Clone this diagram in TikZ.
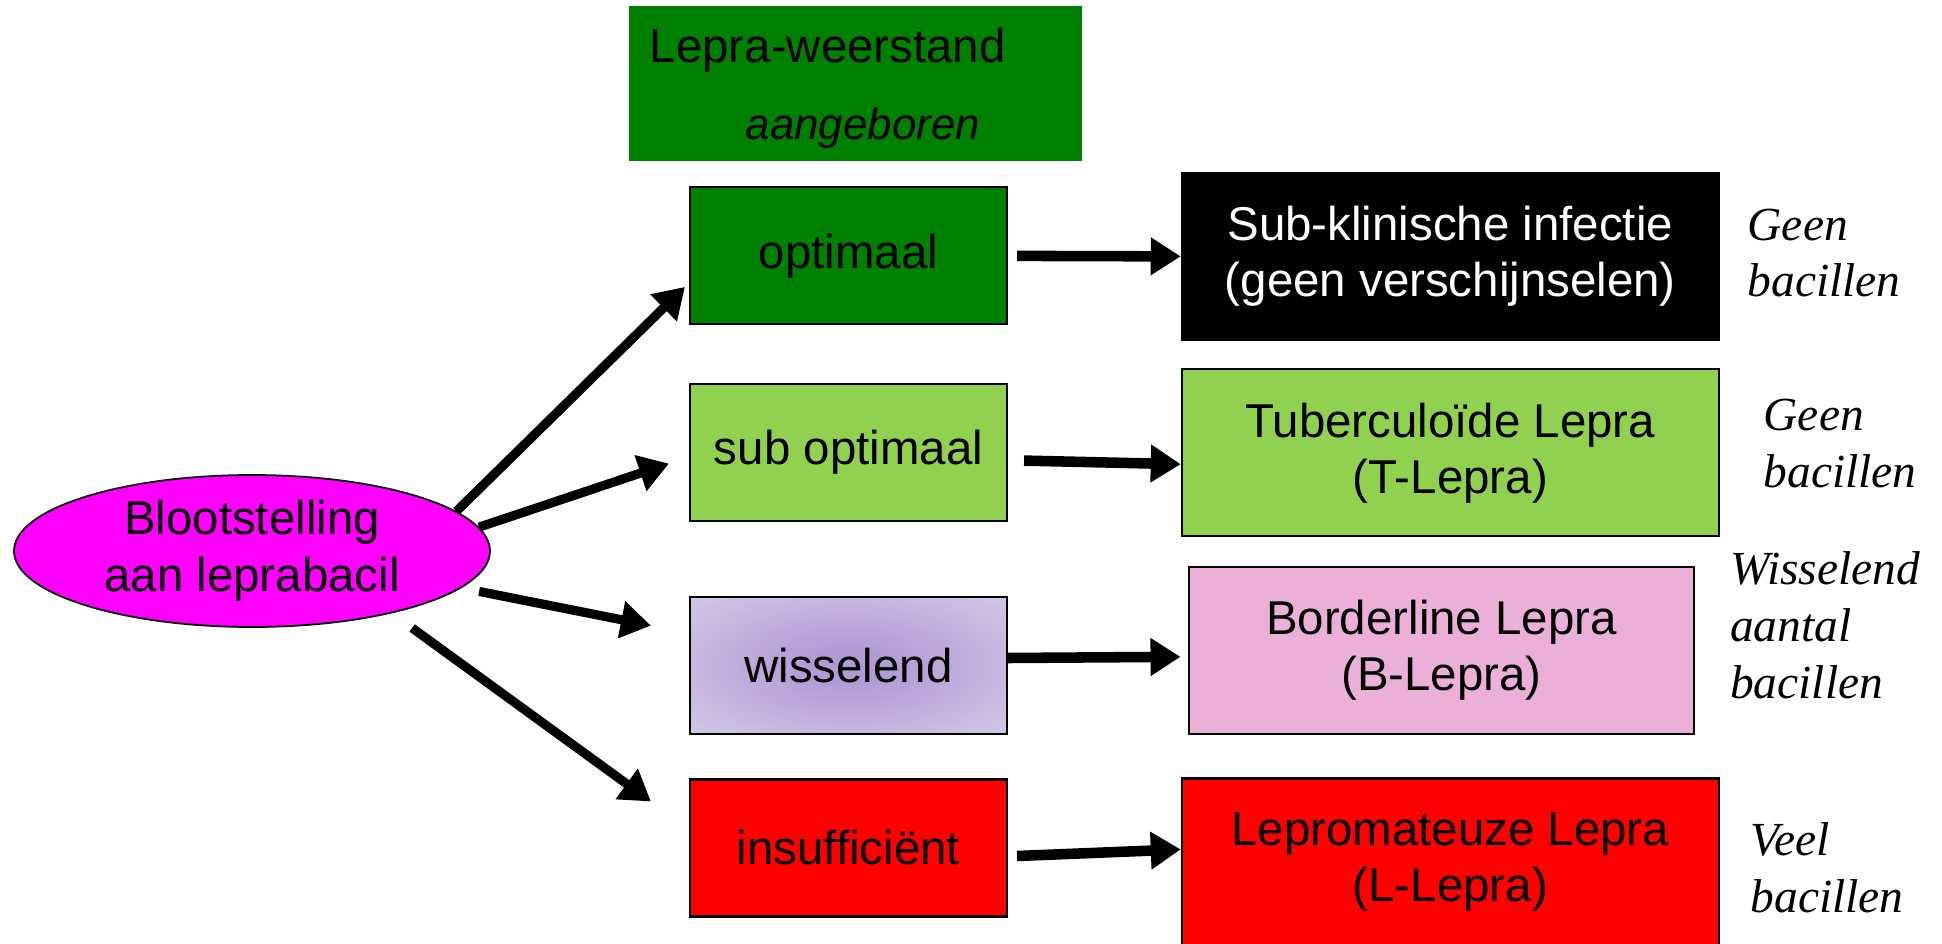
\documentclass[tikz,border=0pt]{standalone}
\usepackage{fontspec}
\setmainfont{Liberation Sans}
\newfontfamily\serifit{Liberation Serif}
\usetikzlibrary{positioning, arrows.meta, shapes.geometric}
\definecolor{donkergroen}{RGB}{0,128,0}
\definecolor{lichtgroen}{RGB}{146,208,80}
\definecolor{roze}{RGB}{234,176,218}
\definecolor{fuchsia}{RGB}{255,0,255}
\definecolor{paarsbinnen}{RGB}{178,155,213}
\definecolor{paarsbuiten}{RGB}{231,225,240}
\pgfdeclareradialshading{paarswolk}{\pgfpoint{0bp}{0bp}}{%
  color(0bp)=(paarsbinnen); color(6bp)=(paarsbinnen);
  color(52bp)=(paarsbuiten); color(75bp)=(paarsbuiten)}
\tikzset{
  rect1/.style = {
    shape = rectangle,
    draw = black,
    line width = 0.6pt,
    inner sep = 0pt,
    align = center,
    minimum width = 3.17cm,
    minimum height = 1.37cm,
    font = \fontsize{13.5}{16}\selectfont,
  }
}
\tikzset{
  rect2/.style = {
    shape = rectangle,
    draw = black,
    line width = 0.6pt,
    inner sep = 0pt,
    align = center,
    minimum width = 5.37cm,
    minimum height = 1.67cm,
    font = \fontsize{13.5}{16}\selectfont,
  }
}
\tikzset{
  label1/.style = {
    anchor = base west,
    inner sep = 0pt,
    align = left,
    font = \serifit\itshape\fontsize{13.5}{16.2}\selectfont,
  }
}
\tikzset{
  arrow1/.style = {
    draw = black, line width = 3pt, -{Triangle[length = 3mm, width = 3.6mm]},
  }
}

\begin{document}
\begin{tikzpicture}
        \useasboundingbox (0,0) rectangle (19.42,9.43);
        % kop
        \node[rect1, draw = none, fill = donkergroen, minimum width = 4.53cm, minimum height = 1.55cm](10) at (8.555,8.596){};
        \node[anchor = base west, inner sep = 0pt, font = \fontsize{13.5}{16}\selectfont](11) at (6.49,8.80){Lepra-weerstand};
        \node[anchor = base west, inner sep = 0pt, font = \fontsize{12.5}{15}\selectfont\itshape](12) at (7.45,8.03){aangeboren};
        % blootstelling
        \node[ellipse, draw = black, line width = 0.5pt, fill = fuchsia, minimum width = 4.76cm, minimum height = 1.52cm, inner sep = 0pt, align = center, font = \fontsize{13.5}{16.2}\selectfont](1) at (2.52,3.92){Blootstelling\\aan leprabacil};
        % weerstand
        \node[rect1, fill = donkergroen](2) at (8.485,6.871){optimaal};
        \node[rect1, fill = lichtgroen](3) at (8.485,4.904){sub optimaal};
        \node[rect1, shade, shading = paarswolk](4) at (8.485,2.774){wisselend};
        \node[rect1, fill = red](5) at (8.485,0.95){insufficiënt};
        % vormen
        \node[rect2, fill = black, text = white](6) at (14.503,6.866){Sub-klinische infectie\\(geen verschijnselen)};
        \node[rect2, fill = lichtgroen](7) at (14.503,4.901){Tuberculoïde Lepra\\(T-Lepra)};
        \node[rect2, fill = roze, minimum width = 5.05cm](8) at (14.415,2.925){Borderline Lepra\\(B-Lepra)};
        \node[rect2, fill = red](9) at (14.503,0.81){Lepromateuze Lepra\\(L-Lepra)};
        % bacillen
        \node[label1](13) at (17.47,6.46){Geen\\bacillen};
        \node[label1](14) at (17.63,4.56){Geen\\bacillen};
        \node[label1](15) at (17.295,2.446){Wisselend\\aantal\\bacillen};
        \node[label1](16) at (17.50,0.302){Veel\\bacillen};
        % pijlen
        \draw[arrow1, line width = 2.6pt](1.11) -- ([xshift = -0.04cm, yshift = -0.31cm]2.west);
        \draw[arrow1, line width = 2.6pt](1.6) -- ([xshift = -0.2cm, yshift = -0.11cm]3.west);
        \draw[arrow1, line width = 2.6pt, shorten <= 0.18cm](1.-10) -- ([xshift = -0.38cm, yshift = 0.4cm]4.west);
        \draw[arrow1, line width = 2.6pt, shorten <= 0.25cm](1.-24) -- ([xshift = -0.38cm, yshift = 0.465cm]5.west);
        \draw[arrow1]([xshift = 0.09cm]2.east) -- (6.west);
        \draw[arrow1]([xshift = 0.16cm, yshift = -0.08cm]3.east) -- ([yshift = -0.113cm]7.west);
        \draw[arrow1]([yshift = 0.076cm]4.east) -- ([xshift = -0.074cm, yshift = -0.063cm]8.west);
        \draw[arrow1]([xshift = 0.09cm, yshift = -0.08cm]5.east) -- ([yshift = 0.126cm]9.west);
    \end{tikzpicture}
\end{document}
